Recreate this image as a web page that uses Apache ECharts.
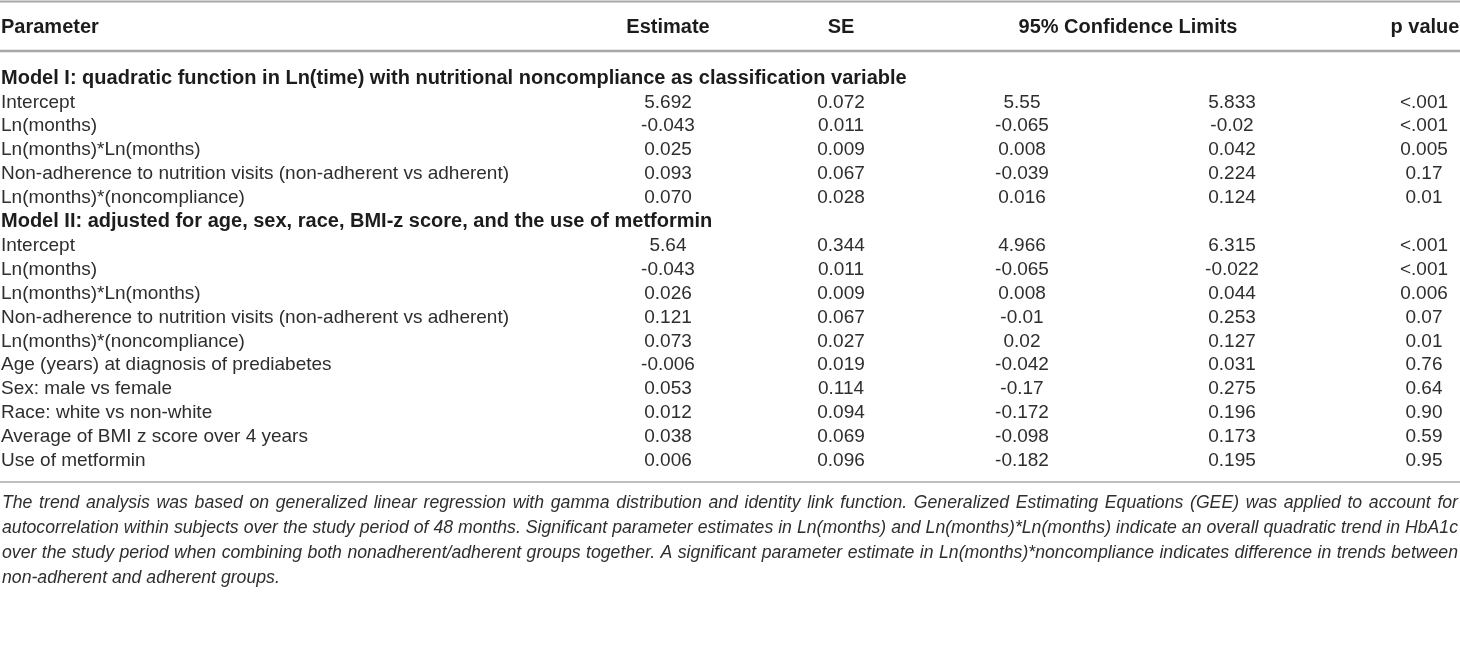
<!DOCTYPE html>
<html>
<head>
<meta charset="utf-8">
<title>Trend analysis of HbA1c</title>
<script src="https://cdn.jsdelivr.net/npm/echarts@6/dist/echarts.min.js"></script>
<style>
  html, body { margin: 0; padding: 0; background: #fff; }
  #table { width: 1460px; height: 648px; }
</style>
</head>
<body>
<div id="table"></div>
<script>
const columnHeaders = ['Parameter', 'Estimate', 'SE', '95% Confidence Limits', 'p value'];

const modelTitles = [
  'Model I: quadratic function in Ln(time) with nutritional noncompliance as classification variable',
  'Model II: adjusted for age, sex, race, BMI-z score, and the use of metformin'
];

const model1Parameters = [
  'Intercept',
  'Ln(months)',
  'Ln(months)*Ln(months)',
  'Non-adherence to nutrition visits (non-adherent vs adherent)',
  'Ln(months)*(noncompliance)'
];
const model1Estimate = ['5.692', '-0.043', '0.025', '0.093', '0.070'];
const model1SE = ['0.072', '0.011', '0.009', '0.067', '0.028'];
const model1Lower = ['5.55', '-0.065', '0.008', '-0.039', '0.016'];
const model1Upper = ['5.833', '-0.02', '0.042', '0.224', '0.124'];
const model1P = ['<.001', '<.001', '0.005', '0.17', '0.01'];

const model2Parameters = [
  'Intercept',
  'Ln(months)',
  'Ln(months)*Ln(months)',
  'Non-adherence to nutrition visits (non-adherent vs adherent)',
  'Ln(months)*(noncompliance)',
  'Age (years) at diagnosis of prediabetes',
  'Sex: male vs female',
  'Race: white vs non-white',
  'Average of BMI z score over 4 years',
  'Use of metformin'
];
const model2Estimate = ['5.64', '-0.043', '0.026', '0.121', '0.073', '-0.006', '0.053', '0.012', '0.038', '0.006'];
const model2SE = ['0.344', '0.011', '0.009', '0.067', '0.027', '0.019', '0.114', '0.094', '0.069', '0.096'];
const model2Lower = ['4.966', '-0.065', '0.008', '-0.01', '0.02', '-0.042', '-0.17', '-0.172', '-0.098', '-0.182'];
const model2Upper = ['6.315', '-0.022', '0.044', '0.253', '0.127', '0.031', '0.275', '0.196', '0.173', '0.195'];
const model2P = ['<.001', '<.001', '0.006', '0.07', '0.01', '0.76', '0.64', '0.90', '0.59', '0.95'];

const footnoteLines = [
  'The trend analysis was based on generalized linear regression with gamma distribution and identity link function. Generalized Estimating Equations (GEE) was applied to account for',
  'autocorrelation within subjects over the study period of 48 months. Significant parameter estimates in Ln(months) and Ln(months)*Ln(months) indicate an overall quadratic trend in HbA1c',
  'over the study period when combining both nonadherent/adherent groups together. A significant parameter estimate in Ln(months)*noncompliance indicates difference in trends between',
  'non-adherent and adherent groups.'
];

// layout (pixels)
const WIDTH = 1460;
const LEFT_X = 1;
const COLUMN_X = [668, 841, 1022, 1232, 1424];
const HEADER_X = [668, 841, 1128, 1425];
const FONT = '"Liberation Sans", Arial, Helvetica, sans-serif';
const BODY_FONT = '19px ' + FONT;
const BOLD_FONT = 'bold 20px ' + FONT;
const TEXT_COLOR = '#2e2e2e';
const BOLD_COLOR = '#1c1c1c';
const RULE_COLOR = '#a8a8a8';
const NOTE_LEFT = 2;
const NOTE_RIGHT = 1458;

function buildRows() {
  const rows = [];
  const models = [
    [model1Parameters, model1Estimate, model1SE, model1Lower, model1Upper, model1P],
    [model2Parameters, model2Estimate, model2SE, model2Lower, model2Upper, model2P]
  ];
  models.forEach((cols, m) => {
    rows.push({ group: true, label: modelTitles[m] });
    cols[0].forEach((name, i) => {
      rows.push({ group: false, label: name, cells: cols.slice(1).map((c) => c[i]) });
    });
  });
  return rows;
}

const rows = buildRows();

function renderRow(params, api) {
  const idx = api.value(0);
  const row = rows[idx];
  const y = api.coord([0, idx])[1];
  const left = api.coord([LEFT_X, idx])[0];
  if (row.group) {
    return {
      type: 'text',
      style: {
        text: row.label, x: left, y,
        font: BOLD_FONT, fill: BOLD_COLOR,
        align: 'left', verticalAlign: 'middle'
      }
    };
  }
  const children = [{
    type: 'text',
    style: {
      text: row.label, x: left, y,
      font: BODY_FONT, fill: TEXT_COLOR,
      align: 'left', verticalAlign: 'middle'
    }
  }];
  row.cells.forEach((val, k) => {
    children.push({
      type: 'text',
      style: {
        text: val, x: api.coord([COLUMN_X[k], idx])[0], y,
        font: BODY_FONT, fill: TEXT_COLOR,
        align: 'center', verticalAlign: 'middle'
      }
    });
  });
  return { type: 'group', children };
}

function headerGraphics() {
  const items = [{
    type: 'text', x: LEFT_X, y: 27,
    style: { text: columnHeaders[0], font: BOLD_FONT, fill: BOLD_COLOR, align: 'left', verticalAlign: 'middle' }
  }];
  columnHeaders.slice(1).forEach((h, k) => {
    items.push({
      type: 'text', x: HEADER_X[k], y: 27,
      style: { text: h, font: BOLD_FONT, fill: BOLD_COLOR, align: 'center', verticalAlign: 'middle' }
    });
  });
  return items;
}

function ruleGraphics() {
  return [[1.5, 2], [51, 2.5], [482, 1.5]].map(([y, w]) => ({
    type: 'line',
    shape: { x1: 0, y1: y, x2: WIDTH, y2: y },
    style: { stroke: RULE_COLOR, lineWidth: w }
  }));
}

// justified footnote: size so the longest line fits, then place word by word
function footnoteGraphics() {
  const ctx = document.createElement('canvas').getContext('2d');
  const span = NOTE_RIGHT - NOTE_LEFT;
  ctx.font = 'italic 18px ' + FONT;
  const longest = Math.max(...footnoteLines.map((l) => ctx.measureText(l).width));
  const size = Math.min(18.5, 18 * span / longest);
  const noteFont = 'italic ' + size.toFixed(2) + 'px ' + FONT;
  ctx.font = noteFont;
  const items = [];
  footnoteLines.forEach((line, li) => {
    const y = 503 + li * 25;
    const words = line.split(' ');
    const widths = words.map((w) => ctx.measureText(w).width);
    const total = widths.reduce((a, b) => a + b, 0);
    const last = li === footnoteLines.length - 1;
    const gap = last ? ctx.measureText(' ').width : (span - total) / (words.length - 1);
    let x = NOTE_LEFT;
    words.forEach((w, i) => {
      items.push({
        type: 'text', x, y,
        style: { text: w, font: noteFont, fill: TEXT_COLOR, align: 'left', verticalAlign: 'middle' }
      });
      x += widths[i] + gap;
    });
  });
  return items;
}

const chart = echarts.init(document.getElementById('table'), null, { renderer: 'canvas' });

chart.setOption({
  animation: false,
  grid: { left: 0, right: 0, top: 66.5, height: 406.3, containLabel: false },
  xAxis: { type: 'value', min: 0, max: WIDTH, show: false },
  yAxis: {
    type: 'category', inverse: true, show: false,
    data: rows.map((r) => r.label)
  },
  series: [{
    type: 'custom',
    silent: true,
    clip: false,
    renderItem: renderRow,
    data: rows.map((r, i) => [i]),
    encode: { y: 0 }
  }],
  graphic: [...ruleGraphics(), ...headerGraphics(), ...footnoteGraphics()]
});
</script>
</body>
</html>
